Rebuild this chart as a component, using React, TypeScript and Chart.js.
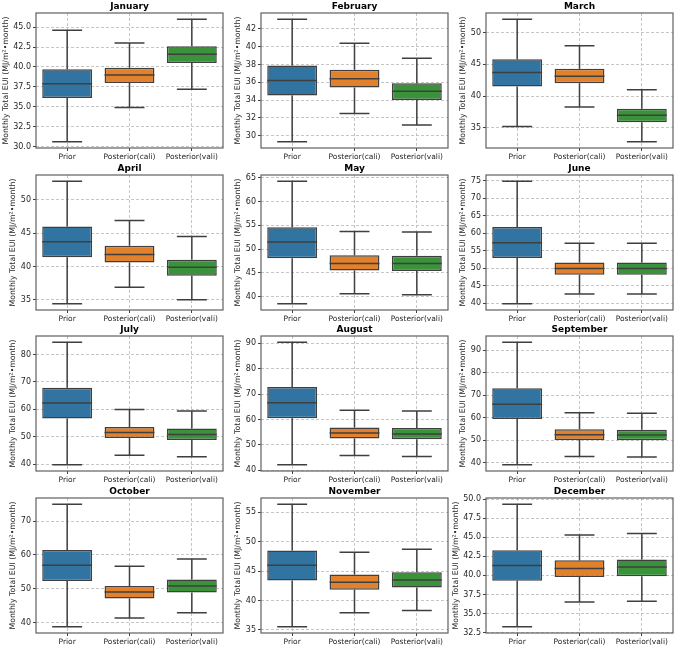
import React, { useEffect, useRef } from 'react';
import { Chart, registerables } from 'chart.js';
Chart.register(...registerables);

const groups = ['Prior', 'Posterior(cali)', 'Posterior(vali)'];
const months = ['January', 'February', 'March', 'April', 'May', 'June', 'July', 'August', 'September', 'October', 'November', 'December'];

// each box: [lower whisker, Q1, median, Q3, upper whisker]
const januaryBoxes = [[30.6, 36.1, 37.9, 39.7, 44.6], [34.9, 38.0, 39.0, 39.9, 43.0], [37.2, 40.5, 41.6, 42.6, 46.0]];
const februaryBoxes = [[29.3, 34.5, 36.2, 37.9, 43.1], [32.5, 35.4, 36.4, 37.4, 40.4], [31.2, 34.0, 35.0, 35.9, 38.7]];
const marchBoxes = [[35.2, 41.5, 43.7, 45.8, 52.1], [38.3, 42.0, 43.1, 44.3, 47.9], [32.8, 35.9, 37.0, 38.0, 41.0]];
const aprilBoxes = [[34.4, 41.4, 43.7, 46.0, 52.8], [36.9, 40.6, 41.8, 43.1, 46.9], [35.0, 38.6, 39.9, 41.0, 44.5]];
const mayBoxes = [[38.5, 48.1, 51.5, 54.6, 64.3], [40.6, 45.5, 47.0, 48.7, 53.7], [40.4, 45.4, 47.0, 48.6, 53.6]];
const juneBoxes = [[39.8, 52.9, 57.3, 61.8, 74.9], [42.6, 48.1, 49.9, 51.6, 57.1], [42.6, 48.1, 49.9, 51.6, 57.1]];
const julyBoxes = [[39.8, 56.7, 62.3, 67.9, 84.5], [43.3, 49.6, 51.6, 53.6, 60.0], [42.8, 48.9, 50.9, 53.0, 59.4]];
const augustBoxes = [[42.1, 60.5, 66.6, 72.8, 90.5], [45.8, 52.5, 54.7, 56.8, 63.6], [45.4, 52.2, 54.3, 56.6, 63.3]];
const septemberBoxes = [[39.0, 59.4, 66.0, 73.1, 93.6], [42.7, 50.1, 52.4, 54.8, 62.2], [42.5, 49.9, 52.3, 54.6, 62.0]];
const octoberBoxes = [[38.7, 52.3, 56.9, 61.4, 75.0], [41.3, 47.1, 49.0, 50.8, 56.6], [42.9, 48.9, 50.8, 52.7, 58.8]];
const novemberBoxes = [[35.5, 43.4, 46.0, 48.5, 56.4], [37.9, 41.8, 43.1, 44.4, 48.2], [38.3, 42.2, 43.5, 44.8, 48.7]];
const decemberBoxes = [[33.25, 39.3, 41.3, 43.3, 49.35], [36.5, 39.8, 40.9, 42.0, 45.3], [36.6, 39.9, 41.1, 42.1, 45.5]];

const monthBoxes = [januaryBoxes, februaryBoxes, marchBoxes, aprilBoxes, mayBoxes, juneBoxes, julyBoxes, augustBoxes, septemberBoxes, octoberBoxes, novemberBoxes, decemberBoxes];
const tickSteps = [2.5, 2, 5, 5, 5, 5, 10, 10, 10, 10, 5, 2.5];
const tickDecimals = [1, 0, 0, 0, 0, 0, 0, 0, 0, 0, 0, 1];

const yLabel = 'Monthly Total EUI (MJ/m\u00B2\u2022month)';
const boxColors = ['#3274a1', '#e1812c', '#3a923a'];
const lineColor = '#3f3f3f';
const gridColor = '#b8b8b8';
const textColor = '#262626';
const family = '"DejaVu Sans", sans-serif';

const colLefts = [0, 225, 450];
const rowTops = [0, 162, 323, 485];
const W = 226;
const H = 162;

function Panel({ idx }: { idx: number }) {
  const ref = useRef<HTMLCanvasElement>(null);
  useEffect(() => {
    const canvas = ref.current!;
    const boxes = monthBoxes[idx];
    const step = tickSteps[idx];
    const dec = tickDecimals[idx];
    const lo = Math.min(...boxes.map((b) => b[0]));
    const hi = Math.max(...boxes.map((b) => b[4]));
    const m = (hi - lo) * 0.05;
    const yMin = lo - m;
    const yMax = hi + m;

    const extras = {
      id: 'boxExtras',
      afterDatasetsDraw(chart: any) {
        const ctx = chart.ctx;
        const y = chart.scales.y;
        const meta = chart.getDatasetMeta(0);
        ctx.save();
        ctx.strokeStyle = lineColor;
        ctx.lineWidth = 1.5;
        boxes.forEach((b, i) => {
          const bar = meta.data[i];
          const x = bar.x;
          const w = bar.width;
          const yl = y.getPixelForValue(b[0]);
          const yq1 = y.getPixelForValue(b[1]);
          const ym = y.getPixelForValue(b[2]);
          const yq3 = y.getPixelForValue(b[3]);
          const yh = y.getPixelForValue(b[4]);
          ctx.beginPath();
          ctx.moveTo(x, yq3); ctx.lineTo(x, yh);
          ctx.moveTo(x, yq1); ctx.lineTo(x, yl);
          ctx.moveTo(x - w * 0.3, yh); ctx.lineTo(x + w * 0.3, yh);
          ctx.moveTo(x - w * 0.3, yl); ctx.lineTo(x + w * 0.3, yl);
          ctx.moveTo(x - w / 2, ym); ctx.lineTo(x + w / 2, ym);
          ctx.stroke();
        });
        ctx.restore();
      },
      afterDraw(chart: any) {
        const ctx = chart.ctx;
        const a = chart.chartArea;
        ctx.save();
        ctx.strokeStyle = '#606060';
        ctx.lineWidth = 1.2;
        ctx.strokeRect(a.left, a.top, a.right - a.left, a.bottom - a.top);
        // title
        ctx.fillStyle = '#000';
        ctx.font = 'bold 9px ' + family;
        ctx.textAlign = 'center';
        ctx.textBaseline = 'alphabetic';
        ctx.fillText(months[idx], (a.left + a.right) / 2, a.top - 4.5);
        // y label
        ctx.font = '8px ' + family;
        let maxW = 0;
        chart.scales.y.ticks.forEach((t: any) => {
          maxW = Math.max(maxW, ctx.measureText(String(t.label)).width);
        });
        const tickLeft = a.left - 5 - maxW;
        const cx = Math.max(tickLeft - 8, 6);
        ctx.font = '7.8px ' + family;
        ctx.translate(cx, (a.top + a.bottom) / 2);
        ctx.rotate(-Math.PI / 2);
        ctx.fillStyle = textColor;
        ctx.textAlign = 'center';
        ctx.textBaseline = 'middle';
        ctx.fillText(yLabel, 0, 0);
        ctx.restore();
      },
    };

    const gridOpts = {
      color: gridColor,
      lineWidth: 0.8,
      drawTicks: true,
      tickLength: 3,
      tickColor: '#404040',
      tickWidth: 1,
      tickBorderDash: [],
    };

    const chart = new Chart(canvas, {
      type: 'bar',
      data: {
        labels: groups,
        datasets: [
          {
            data: boxes.map((b) => [b[1], b[3]]),
            backgroundColor: boxColors,
            borderColor: lineColor,
            borderWidth: 1.5,
            borderSkipped: false,
            categoryPercentage: 0.8,
            barPercentage: 1,
          } as any,
        ],
      },
      options: {
        responsive: false,
        animation: false,
        devicePixelRatio: 1,
        layout: { padding: { top: 13, right: 3, left: 0, bottom: 0 } },
        plugins: {
          legend: { display: false },
          tooltip: { enabled: false },
          title: { display: false },
        },
        scales: {
          x: {
            offset: true,
            grid: { ...gridOpts, offset: false },
            border: { display: false, dash: [3, 2] },
            ticks: { font: { size: 7.5, family }, color: textColor, padding: 2, maxRotation: 0, autoSkip: false },
            afterFit: (s: any) => { s.height = 14; },
          },
          y: {
            min: yMin,
            max: yMax,
            grid: gridOpts,
            border: { display: false, dash: [3, 2] },
            ticks: {
              font: { size: 8, family },
              color: textColor,
              padding: 2,
              callback: (v: any) => Number(v).toFixed(dec),
            },
            afterBuildTicks: (s: any) => {
              const t: any[] = [];
              for (let k = Math.ceil(yMin / step - 1e-9); k * step <= yMax + 1e-9; k++) {
                t.push({ value: +(k * step).toFixed(6) });
              }
              s.ticks = t;
            },
            afterFit: (s: any) => { s.width = 36; },
          },
        },
      } as any,
      plugins: [extras],
    });
    return () => chart.destroy();
  }, [idx]);
  return (
    <canvas
      ref={ref}
      width={W}
      height={H}
      style={{ position: 'absolute', left: colLefts[idx % 3], top: rowTops[Math.floor(idx / 3)], width: W, height: H }}
    />
  );
}

export default function App() {
  return (
    <div style={{ position: 'fixed', left: 0, top: 0, width: 676, height: 649, background: '#fff', overflow: 'hidden' }}>
      {months.map((_, i) => (
        <Panel key={i} idx={i} />
      ))}
    </div>
  );
}
